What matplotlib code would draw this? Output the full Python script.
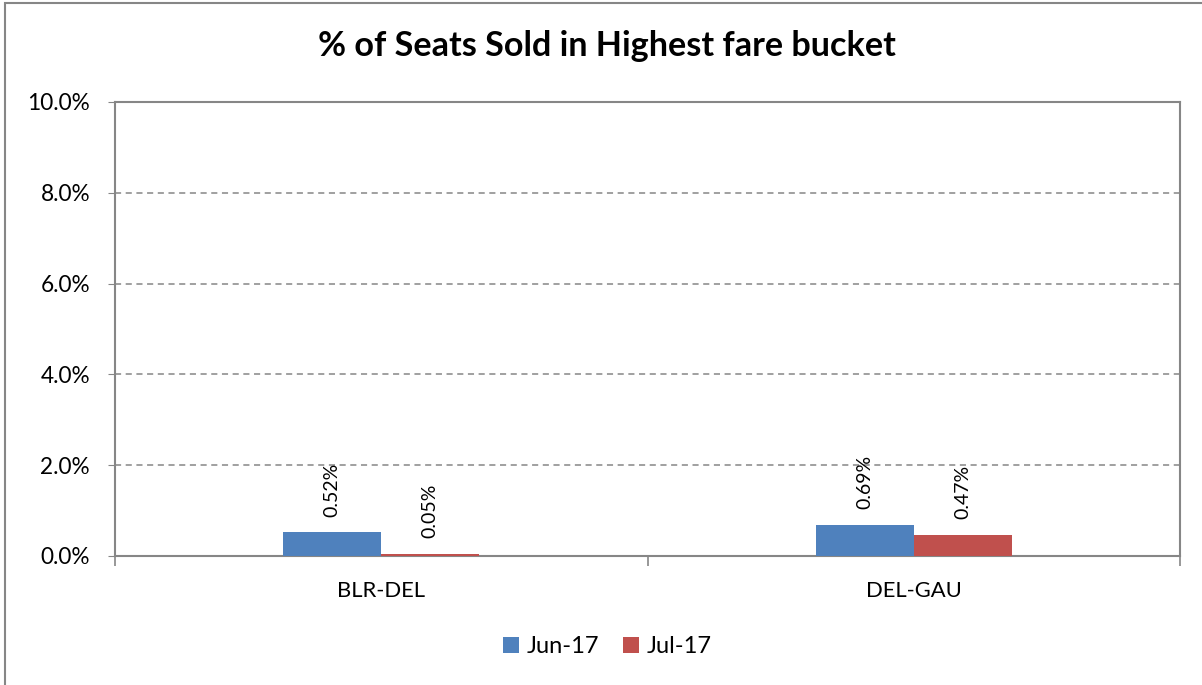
import matplotlib
matplotlib.use("Agg")
import matplotlib.pyplot as plt
from matplotlib.patches import Rectangle
import numpy as np

plt.rcParams['font.family'] = ['Lato', 'DejaVu Sans']

# ---------- data ----------
routes = ["BLR-DEL", "DEL-GAU"]
series_names = ["Jun-17", "Jul-17"]
jun17 = [0.52, 0.69]
jul17 = [0.05, 0.47]
y_ticks = [0, 2, 4, 6, 8, 10]

colors = ["#4F81BD", "#C0504D"]
grey = "#868686"

fig = plt.figure(figsize=(12.02, 6.85), dpi=100)
ax = fig.add_axes([115 / 1202, 1 - 556 / 685, 1065 / 1202, 454 / 685])

# outer chart border (only left/top visible in the crop)
fig.patches.append(Rectangle((5 / 1202, -0.1), 1.2, 1.1 - 3 / 685,
                             transform=fig.transFigure, fill=False,
                             edgecolor=grey, linewidth=1.5))

x = np.arange(len(routes))
w = 0.184
for i, vals in enumerate([jun17, jul17]):
    off = (i - 0.5) * w
    ax.bar(x + off, vals, width=w, color=colors[i], label=series_names[i], zorder=3)
    for xi, v in zip(x + off, vals):
        ax.text(xi, v + 0.35, f"{v:.2f}%", rotation=90, ha="center", va="bottom",
                fontsize=14, color="#000000", zorder=4)

ax.set_xlim(-0.5, len(routes) - 0.5)
ax.set_ylim(0, 10)
ax.set_yticks(y_ticks)
ax.set_yticklabels([f"{t:.1f}%" for t in y_ticks], fontsize=16.3)
ax.set_xticks(x)
ax.set_xticklabels(routes, fontsize=15.8)
ax.tick_params(axis="x", length=0, pad=18)
ax.tick_params(axis="y", length=5, color=grey, pad=13)
# category boundary ticks
ax.set_xticks(np.arange(-0.5, len(routes)), minor=True)
ax.tick_params(axis="x", which="minor", length=7, color=grey, width=1.2)

for t in y_ticks[1:-1]:
    ax.axhline(t, color=grey, linestyle=(0, (4, 3)), linewidth=1.1, zorder=1)

for s in ax.spines.values():
    s.set_color(grey)
    s.set_linewidth(1.5)

fig.text(607 / 1202, 1 - 46 / 685, "% of Seats Sold in Highest fare bucket",
         fontsize=24.6, fontweight="bold", ha="center", va="center")

ax.legend(loc="center", bbox_to_anchor=(0.462, -0.20), ncol=2, frameon=False,
          fontsize=17, handlelength=0.7, handleheight=0.7, handletextpad=0.3,
          columnspacing=1.0)

fig.savefig("out.png", dpi=100)
